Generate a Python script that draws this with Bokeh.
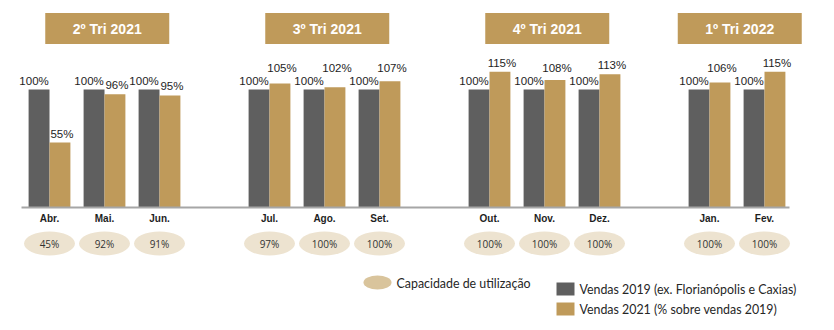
from bokeh.plotting import figure
from bokeh.models import Range1d, ColumnDataSource
from bokeh.core.properties import value
from bokeh.embed import file_html
from bokeh.resources import INLINE

# ---- data ----
months = ["Abr.", "Mai.", "Jun.", "Jul.", "Ago.", "Set.", "Out.", "Nov.", "Dez.", "Jan.", "Fev."]
month_quarter = [0, 0, 0, 1, 1, 1, 2, 2, 2, 3, 3]
quarters = ["2º Tri 2021", "3º Tri 2021", "4º Tri 2021", "1º Tri 2022"]
sales_2019 = [100, 100, 100, 100, 100, 100, 100, 100, 100, 100, 100]
sales_2021 = [55, 96, 95, 105, 102, 107, 115, 108, 113, 106, 115]
capacity = [45, 92, 91, 97, 100, 100, 100, 100, 100, 100, 100]
legend_capacity = "Capacidade  de utilização"
legend_2019 = "Vendas 2019 (ex. Florianópolis e Caxias)"
legend_2021 = "Vendas 2021 (% sobre vendas 2019)"

# ---- layout helpers (pixel -> data) ----
W, H = 834, 330
SLOT = 55.0       # px per month slot
X0 = 49.0         # px of first slot centre
PCT = 1.18        # px per percent
BASE = 207.0      # px of baseline

def dx(px):
    return (px - X0) / SLOT

def dy(py):
    return (BASE - py) / PCT

DARK = "#5F5F5F"
GOLD = "#BF9A5A"
LIGHT = "#EDE3D0"
LEG_ELL = "#D9C49C"
TXT = "#1E1E1E"

pos = [i + q for i, q in enumerate(month_quarter)]
bw = 0.38

src = ColumnDataSource(dict(
    pos=pos,
    x19=[p_ - bw / 2 for p_ in pos],
    x21=[p_ + bw / 2 for p_ in pos],
    v19=sales_2019,
    v21=sales_2021,
    l19=[f"{v}%" for v in sales_2019],
    l21=[f"{v}%" for v in sales_2021],
    y19=[v + 1.8 for v in sales_2019],
    y21=[(max(v, 111) + 2.5) if v > 100 else v + 2.5 for v in sales_2021],
    month=months,
    cap=[f"{c}%" for c in capacity],
))

p = figure(width=W, height=H, output_backend="svg", toolbar_location=None,
           x_range=Range1d(dx(0), dx(W)), y_range=Range1d(dy(H), dy(0)),
           min_border=0, x_axis_location=None, y_axis_location=None)
p.grid.visible = False
p.outline_line_color = None
p.background_fill_color = "white"
p.border_fill_color = "white"

# bars
p.vbar(x="x19", top="v19", bottom=0, width=bw, source=src, color=DARK, line_color=None)
p.vbar(x="x21", top="v21", bottom=0, width=bw, source=src, color=GOLD, line_color=None)

# axis line
p.segment(x0=[dx(21)], y0=[0], x1=[dx(789)], y1=[0], line_color="#A6A6A6", line_width=2)

# value labels
p.text(x="x19", y="y19", text="l19", source=src, text_align="center", text_baseline="bottom",
       x_offset=-5, text_font=value("Liberation Sans"), text_font_size="11.5px", text_color=TXT)
p.text(x="x21", y="y21", text="l21", source=src, text_align="center", text_baseline="bottom",
       x_offset=2, text_font=value("Liberation Sans"), text_font_size="11.5px", text_color=TXT)

# month labels
p.text(x="pos", y=dy(218), text="month", source=src, text_align="center", text_baseline="middle",
       text_font=value("Liberation Sans"), text_font_style="bold", text_font_size="10px", text_color=TXT)

# capacity ellipses
p.ellipse(x="pos", y=dy(243), width=51, height=24, width_units="screen", height_units="screen",
          source=src, fill_color=LIGHT, line_color=None)
p.text(x="pos", y=dy(243), text="cap", source=src, text_align="center", text_baseline="middle",
       text_font=value("Open Sans"), text_font_size="10px", text_color="#333333")

# quarter headers
qcent = []
for q in range(len(quarters)):
    ps = [pp for pp, mq in zip(pos, month_quarter) if mq == q]
    qcent.append(sum(ps) / len(ps) + 0.05)
p.rect(x=qcent, y=dy(28), width=124, height=31, width_units="screen", height_units="screen",
       fill_color=GOLD, line_color=None)
p.text(x=qcent, y=dy(28), text=quarters, text_align="center", text_baseline="middle",
       text_font=value("Liberation Sans"), text_font_style="bold", text_font_size="14px", text_color="white")

# legend
p.ellipse(x=[dx(377)], y=[dy(282)], width=28, height=14, width_units="screen", height_units="screen",
          fill_color=LEG_ELL, line_color=None)
p.text(x=[dx(396)], y=[dy(283)], text=[legend_capacity], text_align="left", text_baseline="middle",
       text_font=value("Lato"), text_font_size="12.4px", text_color="#262626")
p.rect(x=[dx(565), dx(565)], y=[dy(288.5), dy(308.5)], width=18, height=13,
       width_units="screen", height_units="screen", fill_color=[DARK, GOLD], line_color=None)
p.text(x=[dx(579), dx(579)], y=[dy(289), dy(309)], text=[legend_2019, legend_2021],
       text_align="left", text_baseline="middle",
       text_font=value("Lato"), text_font_size="12.4px", text_color="#262626")

open("out.html", "w").write(file_html(p, INLINE))
